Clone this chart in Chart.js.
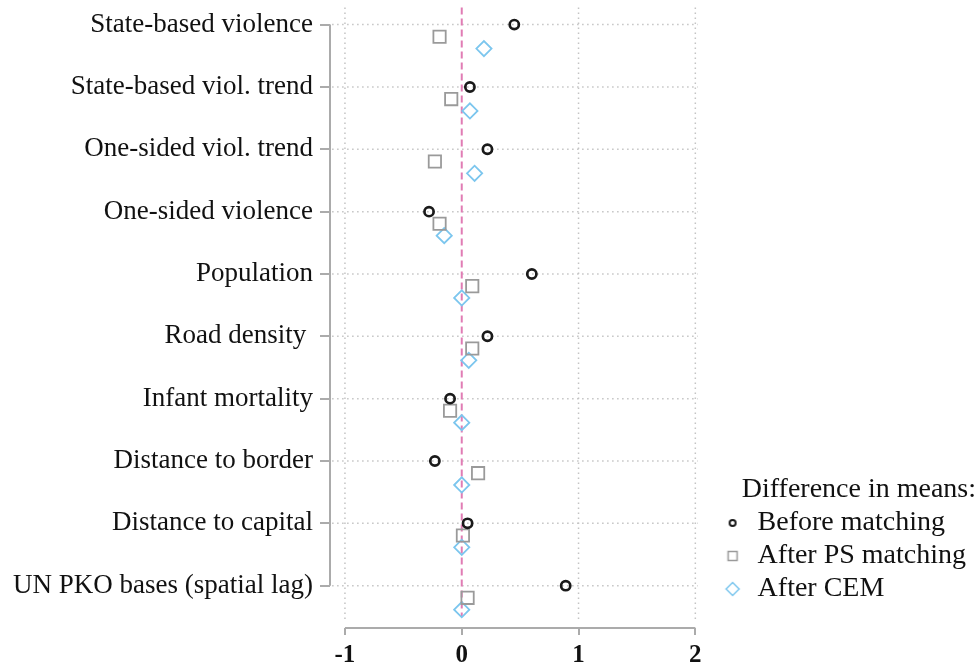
<!DOCTYPE html>
<html>
<head>
<meta charset="utf-8">
<script src="https://cdn.jsdelivr.net/npm/chart.js@4.4.1/dist/chart.umd.min.js"></script>
<style>
  html, body { margin: 0; padding: 0; background: #ffffff; }
  #wrap { position: relative; width: 976px; height: 670px; }
</style>
</head>
<body>
<div id="wrap"><canvas id="c"></canvas></div>
<script>
// ---- data ----
const categories = [
  'State-based violence',
  'State-based viol. trend',
  'One-sided viol. trend',
  'One-sided violence',
  'Population',
  'Road density ',
  'Infant mortality',
  'Distance to border',
  'Distance to capital',
  'UN PKO bases (spatial lag)'
];
const beforeMatching = [0.45, 0.07, 0.22, -0.28, 0.60, 0.22, -0.10, -0.23, 0.05, 0.89];
const afterPS        = [-0.19, -0.09, -0.23, -0.19, 0.09, 0.09, -0.10, 0.14, 0.01, 0.05];
const afterCEM       = [0.19, 0.07, 0.11, -0.15, 0.00, 0.06, 0.00, 0.00, 0.00, 0.00];
const xTicks = [-1, 0, 1, 2];
const seriesNames = ['Before matching', 'After PS matching', 'After CEM'];
const legendTitle = 'Difference in means:';

const SERIF = "'Liberation Serif', 'Times New Roman', serif";
const offsets = [0, 0.195, 0.385];
const colors = ['#1a1a1a', '#9a9a9a', '#7cc6ee'];

function pts(vals, off) {
  return vals.map((v, i) => ({ x: v, y: i + 1 + off }));
}

// small legend symbols
function legendSymbol(kind, color) {
  const c = document.createElement('canvas');
  c.width = 18; c.height = 18;
  const g = c.getContext('2d');
  g.strokeStyle = color;
  g.beginPath();
  if (kind === 'circle') {
    g.lineWidth = 2;
    g.arc(9, 9, 3, 0, Math.PI * 2);
  } else if (kind === 'rect') {
    g.lineWidth = 1.5;
    g.rect(4.5, 4.5, 9, 9);
  } else {
    g.lineWidth = 1.5;
    g.moveTo(9, 2.5); g.lineTo(15.5, 9); g.lineTo(9, 15.5); g.lineTo(2.5, 9); g.closePath();
  }
  g.stroke();
  return c;
}
const legendSymbols = [
  legendSymbol('circle', colors[0]),
  legendSymbol('rect', colors[1]),
  legendSymbol('diamond', colors[2])
];

const guides = {
  id: 'guides',
  beforeDatasetsDraw(chart) {
    const { ctx, chartArea } = chart;
    const xs = chart.scales.x, ys = chart.scales.y;
    ctx.save();
    // dotted grid
    ctx.strokeStyle = '#c4c4c4';
    ctx.lineWidth = 1.5;
    ctx.setLineDash([1.5, 3.5]);
    categories.forEach((c, i) => {
      const y = ys.getPixelForValue(i + 1);
      ctx.beginPath();
      ctx.moveTo(xs.getPixelForValue(-1.11), y);
      ctx.lineTo(xs.getPixelForValue(2.02), y);
      ctx.stroke();
    });
    [-1, 1, 2].forEach(v => {
      const x = xs.getPixelForValue(v);
      ctx.beginPath();
      ctx.moveTo(x, ys.getPixelForValue(0.727));
      ctx.lineTo(x, ys.getPixelForValue(10.55));
      ctx.stroke();
    });
    // zero reference line
    ctx.strokeStyle = '#e07cb4';
    ctx.lineWidth = 2;
    ctx.setLineDash([7, 4]);
    const x0 = xs.getPixelForValue(0);
    ctx.beginPath();
    ctx.moveTo(x0, ys.getPixelForValue(0.727));
    ctx.lineTo(x0, ys.getPixelForValue(10.5));
    ctx.stroke();
    // axis lines
    ctx.setLineDash([]);
    ctx.strokeStyle = '#ababab';
    ctx.lineWidth = 2;
    ctx.beginPath();
    ctx.moveTo(chartArea.left, ys.getPixelForValue(1));
    ctx.lineTo(chartArea.left, ys.getPixelForValue(categories.length));
    ctx.stroke();
    ctx.beginPath();
    ctx.moveTo(xs.getPixelForValue(xTicks[0]), chartArea.bottom);
    ctx.lineTo(xs.getPixelForValue(xTicks[xTicks.length - 1]), chartArea.bottom);
    ctx.stroke();
    ctx.restore();
  }
};

new Chart(document.getElementById('c'), {
  type: 'scatter',
  data: {
    datasets: [
      {
        label: seriesNames[0],
        data: pts(beforeMatching, offsets[0]),
        pointStyle: 'circle',
        pointRadius: 4.6,
        pointBorderWidth: 2.7,
        borderColor: colors[0],
        backgroundColor: 'rgba(255,255,255,0)'
      },
      {
        label: seriesNames[1],
        data: pts(afterPS, offsets[1]),
        pointStyle: 'rect',
        pointRadius: 8.7,
        pointBorderWidth: 1.8,
        borderColor: colors[1],
        backgroundColor: 'rgba(255,255,255,0)'
      },
      {
        label: seriesNames[2],
        data: pts(afterCEM, offsets[2]),
        pointStyle: 'rectRot',
        pointRadius: 7.6,
        pointBorderWidth: 1.8,
        borderColor: colors[2],
        backgroundColor: 'rgba(255,255,255,0)'
      }
    ]
  },
  options: {
    responsive: true,
    maintainAspectRatio: false,
    animation: false,
    layout: { padding: 0 },
    scales: {
      x: {
        type: 'linear',
        min: -1.128,
        max: 2.182,
        afterBuildTicks: s => { s.ticks = xTicks.map(v => ({ value: v })); },
        afterFit: s => { s.height = 42; },
        grid: { drawOnChartArea: false, drawTicks: true, tickLength: 7, color: '#ababab', lineWidth: 2 },
        border: { display: false },
        ticks: {
          color: '#111',
          font: { family: SERIF, size: 25, weight: 'bold' },
          padding: 6,
          maxRotation: 0,
          autoSkip: false
        }
      },
      y: {
        type: 'linear',
        reverse: true,
        min: 0.7737,
        max: 10.679,
        afterBuildTicks: s => { s.ticks = categories.map((c, i) => ({ value: i + 1 })); },
        afterFit: s => { s.width = 330; s.paddingTop = 0; s.paddingBottom = 0; },
        grid: { drawOnChartArea: false, drawTicks: true, tickLength: 10, color: '#ababab', lineWidth: 2 },
        border: { display: false },
        ticks: {
          color: '#111',
          font: { family: SERIF, size: 27 },
          padding: 7,
          autoSkip: false,
          callback: v => categories[Math.round(v) - 1] || ''
        }
      }
    },
    plugins: {
      tooltip: { enabled: false },
      legend: {
        position: 'right',
        align: 'start',
        maxWidth: 320,
        title: {
          display: true,
          text: legendTitle,
          position: 'end',
          color: '#111',
          font: { family: SERIF, size: 28, lineHeight: 1 },
          padding: { top: 476, bottom: 0 }
        },
        labels: {
          usePointStyle: true,
          pointStyleWidth: 22,
          boxHeight: 10,
          padding: 5,
          color: '#111',
          font: { family: SERIF, size: 28 },
          generateLabels: chart => {
            const items = Chart.defaults.plugins.legend.labels.generateLabels(chart);
            items.forEach((it, i) => { it.pointStyle = legendSymbols[i]; });
            return items;
          }
        }
      }
    }
  },
  plugins: [guides]
});
</script>
</body>
</html>
